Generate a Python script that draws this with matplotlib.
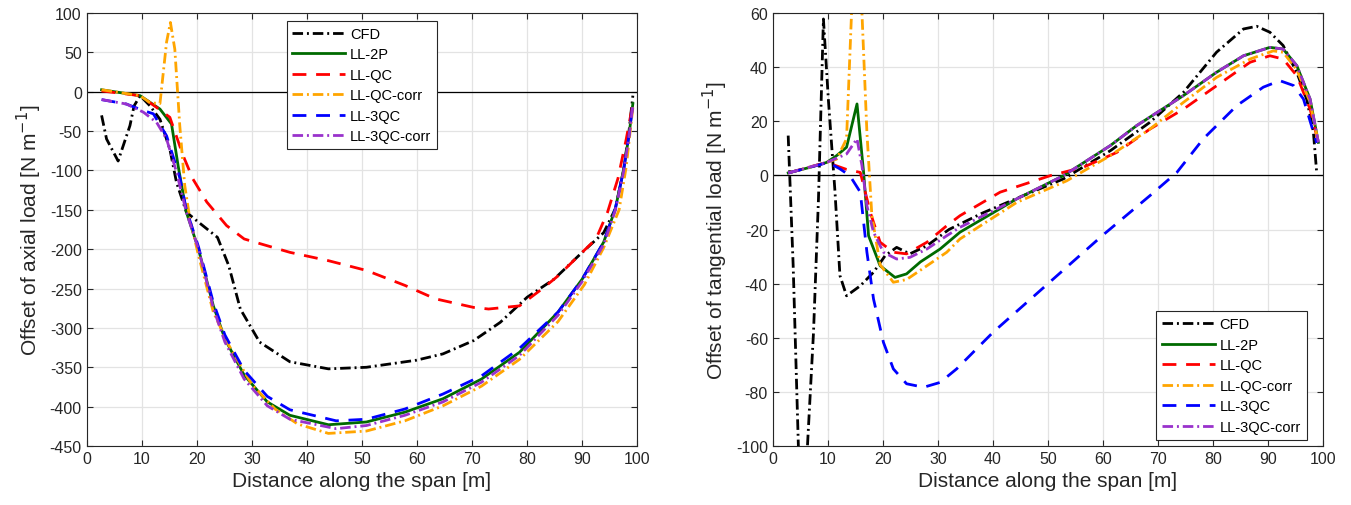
import numpy as np
import matplotlib
matplotlib.use("Agg")
import matplotlib.pyplot as plt

plt.rcParams["font.family"] = ["Liberation Sans", "DejaVu Sans"]
plt.rcParams["axes.unicode_minus"] = False

LABELS = ["CFD", "LL-2P", "LL-QC", "LL-QC-corr", "LL-3QC", "LL-3QC-corr"]
COLORS = ["black", "#006a00", "#ff0000", "#ffa500", "#0000ff", "#9932cc"]
DASHDOT = (0, (3.8, 1.4, 0.7, 1.4))
DASHED = (0, (5, 3.5))
STYLES = [DASHDOT, "-", DASHED, DASHDOT, DASHED, DASHDOT]

# ---- axial load offset (left panel) ----
ax_cfd_x = [2.7, 3.6, 5.7, 7.85, 8.6, 9.7, 11.5, 13.3, 15.1, 16.3, 18.1, 20, 23.75, 25.8, 27.9,
            31.4, 36.9, 43.9, 50.8, 59.9, 64.7, 70.3, 75.1, 80, 84.9, 89.7, 93.9, 96, 97.5, 98.5, 99.2]
ax_cfd_y = [-30, -60, -88, -43, -18, -5, -18, -35, -73, -115, -153, -164, -185, -221, -276,
            -318, -343, -352, -350, -341, -333, -316, -293, -261, -238, -206, -179, -149, -100, -50, -5]

ax_2p_x = [2.7, 9.7, 13.3, 15.4, 16.6, 18.1, 20.3, 23, 25.1, 28.6, 32.8, 36.9, 43.9, 50.8, 57.8,
           64.7, 71.7, 78.6, 85.6, 90, 93.9, 96, 97.5, 98.5, 99.2]
ax_2p_y = [2.5, -5, -22, -41, -94, -153, -200, -272, -314, -360, -394, -411, -423, -419.5, -407,
           -390, -365, -331, -280, -238, -191, -149, -100, -55, -15]

ax_qc_x = [2.7, 9.7, 12.7, 15.1, 17.5, 19.3, 21.8, 25.4, 28.6, 31.5, 36.9, 43.9, 50.8, 57.8, 63.3,
           70.3, 73, 78.6, 82.8, 85.6, 89.7, 92.5, 94.6, 96.5, 98, 99.2]
ax_qc_y = [1, -5, -20, -32.5, -81, -111, -140, -170, -187, -193, -204, -214.6, -227, -246, -263,
           -274, -276, -272, -250, -234, -206, -187, -153, -110, -60, -15]

ax_qcc_x = [2.7, 9.7, 11.5, 13.3, 14.5, 15.2, 16, 16.9, 17.8, 18.7, 20.3, 23, 25.8, 30, 34.2, 38.3,
            43.9, 50.8, 57.8, 64.7, 71.7, 78.6, 85.6, 90.4, 93.9, 96.7, 98, 99.2]
ax_qcc_y = [2.5, -5, -14, -15, 63, 88, 54, -43, -119, -160, -208, -280, -322, -372, -403, -422,
            -434, -431, -418, -399, -374, -340, -292, -245, -198, -150, -95, -20]

ax_3qc_x = [2.7, 7.2, 10.3, 12.1, 14.5, 16.9, 18.1, 20.3, 23, 25.1, 28.6, 32.8, 36.9, 45.3, 50.8,
            57.8, 64.7, 71.7, 78.6, 85.6, 90, 93.9, 96, 97.5, 98.5, 99.2]
ax_3qc_y = [-10, -15.6, -24, -28, -56, -109, -150, -197, -268, -309, -354, -387, -404, -418, -416,
            -403, -384, -361, -326, -280, -238, -191, -149, -100, -55, -15]

ax_3qcc_x = [2.7, 7.2, 10.3, 12.7, 14.5, 16.3, 18.1, 20.3, 23, 25.1, 28.6, 32.8, 36.9, 45.3, 50.8,
             57.8, 64.7, 71.7, 78.6, 85.6, 90, 93.9, 96, 97.5, 98.5, 99.2]
ax_3qcc_y = [-10, -15.6, -26, -39, -60, -102, -153, -200, -275, -318, -365, -399, -416, -428, -424,
             -411, -394, -369, -335, -284, -241, -194, -151, -102, -57, -17]

# ---- tangential load offset (right panel) ----
tg_cfd_x = [2.8, 3.7, 4.65, 5.5, 6.3, 7.4, 8.3, 9.2, 10.1, 11.3, 12.2, 13.4, 15.9, 18.3, 20.4, 22.5,
            24.9, 28, 32, 38, 44.9, 52.8, 61.3, 68.5, 74.6, 80.6, 85.5, 87.9, 90.3, 92.7, 95.2, 97,
            98.2, 98.8]
tg_cfd_y = [14.7, -33, -100, -130, -100, -58, -8.7, 57.8, 28, -6, -37, -44.5, -40.8, -35.8, -29.7,
            -26.6, -29, -26, -20, -14, -8, -1.3, 9.1, 19.6, 30.7, 45.5, 54.1, 55.1, 52.9, 48, 38, 28,
            16, 1]

tg_2p_x = [2.8, 6.8, 9.8, 11.6, 13.4, 15.3, 16.5, 17.4, 19.5, 22.2, 24.3, 26.8, 30.4, 34, 44.3, 52.8,
           61.3, 66.1, 74.6, 80.6, 85.5, 90.3, 92.7, 95.2, 97.6, 99.1]
tg_2p_y = [0.9, 3, 4.8, 7.3, 10.4, 26.4, 1.1, -22.3, -33.4, -37.7, -36.4, -32, -27.2, -21, -8.7, -0.1,
           11, 18.4, 29.5, 38.1, 44.2, 47.3, 46.7, 40.5, 28.2, 12.2]

tg_qc_x = [2.8, 9.8, 11.6, 13.4, 15.9, 16.5, 17.7, 19.5, 21.9, 24.3, 28, 31.6, 34, 41.3, 50.4, 56.4,
           62.5, 68.5, 74.6, 80.6, 86.7, 90.3, 92.7, 95.2, 97.6, 99.1]
tg_qc_y = [0.9, 4.8, 3.5, 2.2, 1.1, -3.7, -13.6, -24.7, -28.4, -29, -24.7, -18.6, -14.9, -6.2, -0.1, 3,
           8.5, 17.1, 24.5, 33.1, 41.8, 44.2, 43, 36.8, 24.5, 12]

tg_qcc_x = [2.8, 9.8, 11.6, 13.4, 14.3, 15.2, 16.2, 17.1, 18, 19.5, 21.9, 24.3, 28, 31.6, 34, 44.3,
            53.4, 61.3, 68.5, 74.6, 80.6, 86.7, 90.9, 92.7, 95.2, 97.6, 99.1]
tg_qcc_y = [0.9, 4.8, 6, 13.5, 59.6, 85, 60, 15.9, -14.9, -33, -39.5, -38.5, -33.4, -28.4, -23.5, -10,
            -2, 7.3, 17.1, 27, 36.2, 43, 46, 45.5, 39, 27, 12]

tg_3qc_x = [2.8, 10.1, 12.2, 14, 15.9, 17.1, 18.3, 20.1, 21.9, 24.3, 27.4, 30.4, 33.4, 40, 50, 60,
            68.5, 73.4, 78.2, 84.3, 89.1, 92.1, 94.6, 96.4, 98.2, 98.8]
tg_3qc_y = [0.9, 4.8, 2.4, -0.1, -6.2, -28.4, -45.7, -61.7, -71.5, -77, -78.3, -76.5, -71.5, -58, -40,
            -22, -7.5, 1.1, 13.5, 25.8, 32.6, 35, 33.2, 28.2, 16, 12]

tg_3qcc_x = [2.8, 9.8, 13.4, 15.3, 16.2, 17.1, 18.3, 20.1, 22.5, 24.9, 28, 31.6, 34, 44.3, 52.8, 61.3,
             66.1, 74.6, 80.6, 85.5, 90.3, 92.7, 95.2, 97.6, 99.1]
tg_3qcc_y = [0.9, 4.8, 7.9, 13.5, 3.6, -11.2, -21, -28.4, -30.9, -30.3, -27.2, -22.3, -19.2, -8.7,
             -0.1, 11, 18.4, 29.5, 38.1, 44.2, 47.3, 46.7, 40.5, 28.2, 12.2]

axial = [(ax_cfd_x, ax_cfd_y), (ax_2p_x, ax_2p_y), (ax_qc_x, ax_qc_y),
         (ax_qcc_x, ax_qcc_y), (ax_3qc_x, ax_3qc_y), (ax_3qcc_x, ax_3qcc_y)]
tangential = [(tg_cfd_x, tg_cfd_y), (tg_2p_x, tg_2p_y), (tg_qc_x, tg_qc_y),
              (tg_qcc_x, tg_qcc_y), (tg_3qc_x, tg_3qc_y), (tg_3qcc_x, tg_3qcc_y)]


def style_axes(ax):
    ax.grid(True, color="#e3e3e3", linewidth=0.9)
    ax.set_axisbelow(True)
    ax.tick_params(direction="in", top=True, right=True, length=4, labelsize=11.5,
                   color="#262626", labelcolor="#262626")
    for s in ax.spines.values():
        s.set_color("#262626")
        s.set_linewidth(0.8)


def draw(ax, series, ylim, yticks, ylabel, legend_kw):
    ax.axhline(0, color="black", linewidth=0.9, zorder=1.5)
    for (x, y), lab, c, ls in zip(series, LABELS, COLORS, STYLES):
        ax.plot(x, y, color=c, linestyle=ls, linewidth=2, label=lab)
    ax.set_xlim(0, 100)
    ax.set_ylim(*ylim)
    ax.set_xticks(np.arange(0, 101, 10))
    ax.set_yticks(yticks)
    ax.set_xlabel("Distance along the span [m]", fontsize=15, color="#262626")
    ax.set_ylabel(ylabel, fontsize=15, color="#262626")
    style_axes(ax)
    leg = ax.legend(fontsize=10.5, handlelength=3.6, handletextpad=0.35, borderpad=0.4,
                    labelspacing=0.45, borderaxespad=0, fancybox=False, framealpha=1, **legend_kw)
    leg.get_frame().set_edgecolor("#262626")
    leg.get_frame().set_linewidth(0.8)


fig = plt.figure(figsize=(13.51, 5.06), dpi=100)
ax1 = fig.add_axes([0.0642, 0.1166, 0.4075, 0.8557])
ax2 = fig.add_axes([0.572, 0.1166, 0.4075, 0.8557])

draw(ax1, axial, (-450, 100), np.arange(-450, 101, 50), "Offset of axial load [N m$^{-1}$]",
     dict(loc="upper left", bbox_to_anchor=(0.363, 0.982)))
draw(ax2, tangential, (-100, 60), np.arange(-100, 61, 20), "Offset of tangential load [N m$^{-1}$]",
     dict(loc="lower right", bbox_to_anchor=(0.970, 0.0145)))

fig.savefig("out.png", dpi=100)
